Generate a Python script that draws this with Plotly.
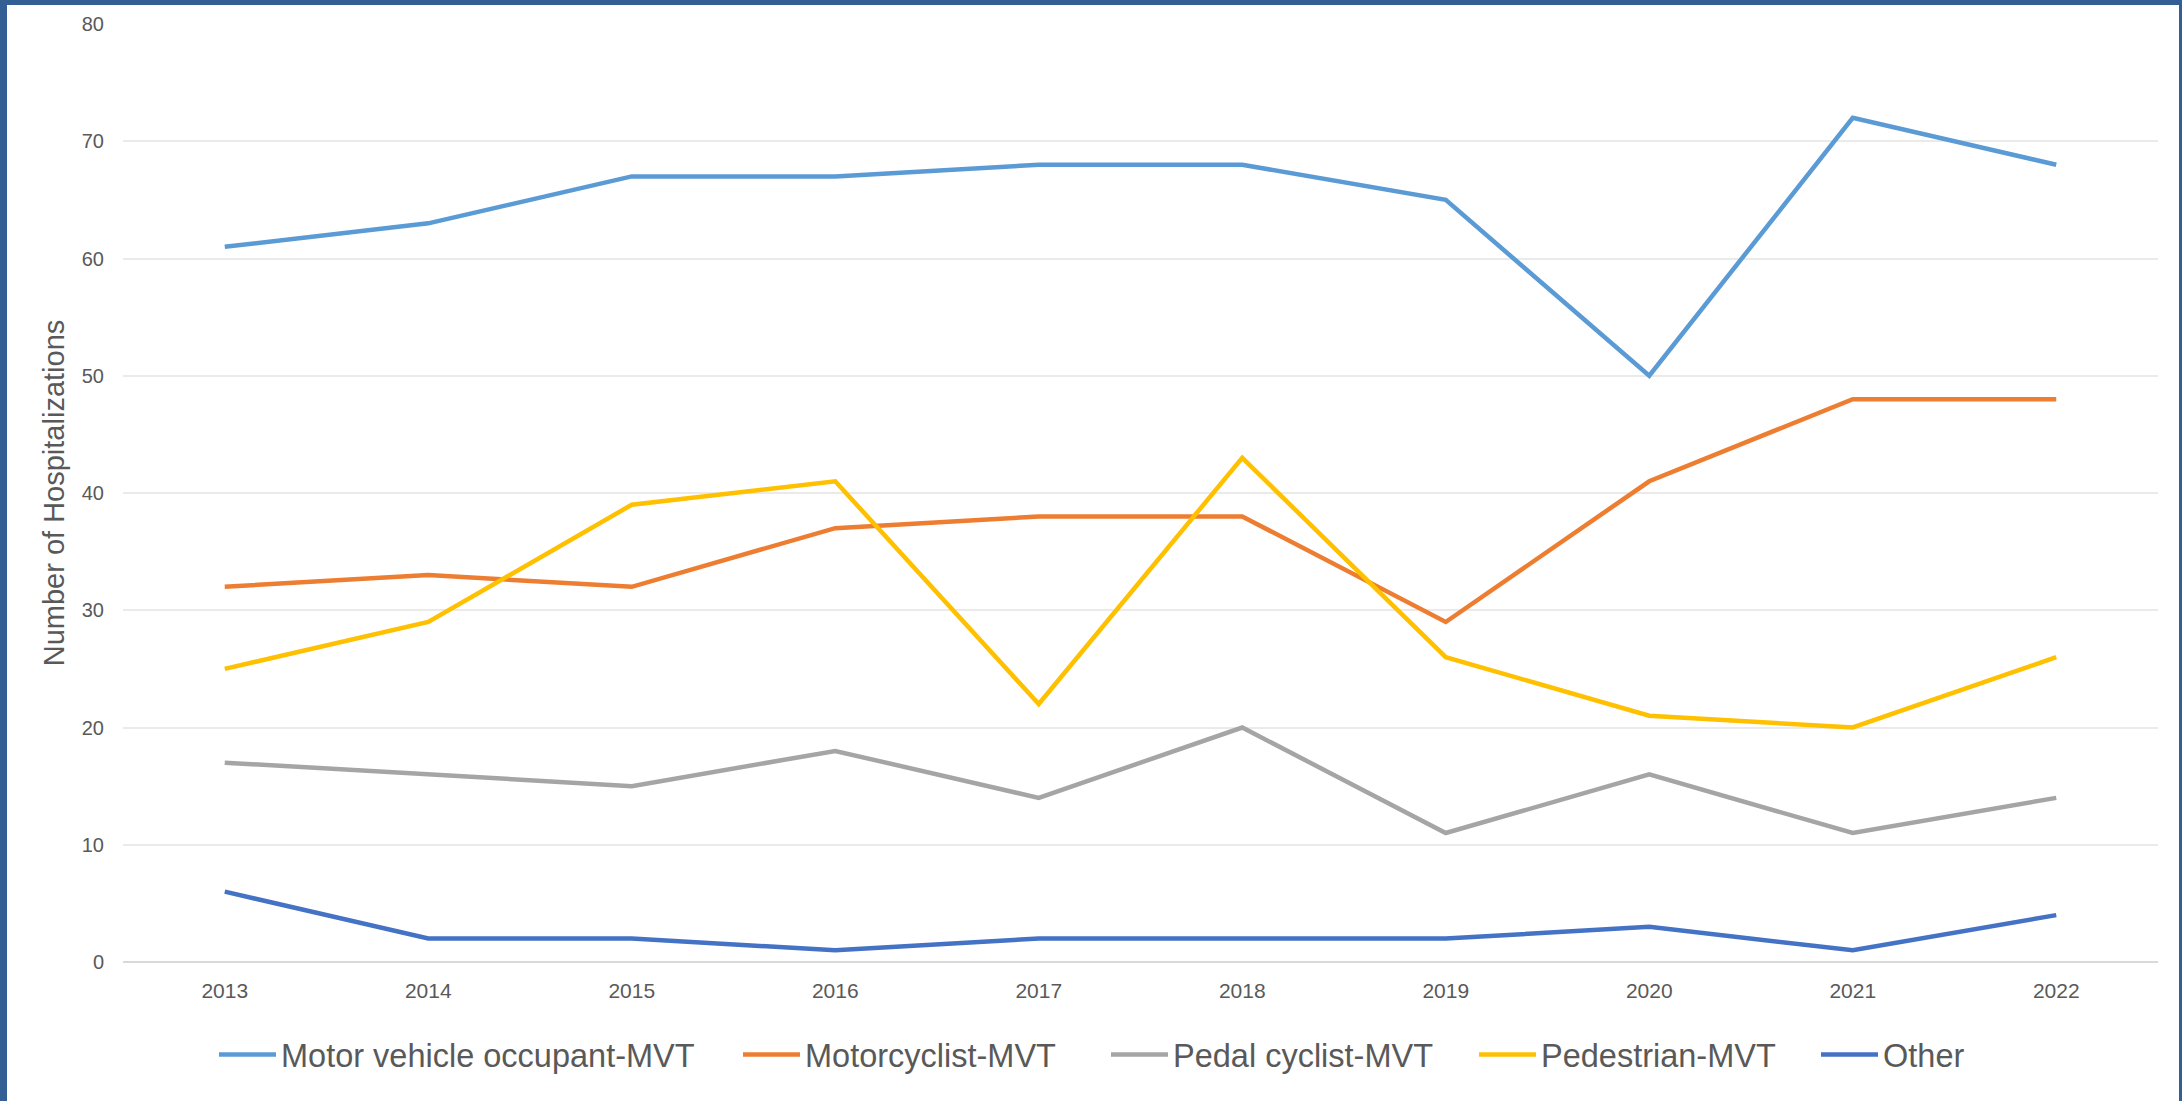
import plotly.graph_objects as go

years = ["2013", "2014", "2015", "2016", "2017", "2018", "2019", "2020", "2021", "2022"]
motor_vehicle_occupant = [61, 63, 67, 67, 68, 68, 65, 50, 72, 68]
motorcyclist = [32, 33, 32, 37, 38, 38, 29, 41, 48, 48]
pedal_cyclist = [17, 16, 15, 18, 14, 20, 11, 16, 11, 14]
pedestrian = [25, 29, 39, 41, 22, 43, 26, 21, 20, 26]
other = [6, 2, 2, 1, 2, 2, 2, 3, 1, 4]

series_names = ["Motor vehicle occupant-MVT", "Motorcyclist-MVT", "Pedal cyclist-MVT",
                "Pedestrian-MVT", "Other"]
series_values = [motor_vehicle_occupant, motorcyclist, pedal_cyclist, pedestrian, other]
series_colors = ["#5B9BD5", "#ED7D31", "#A5A5A5", "#FFC000", "#4472C4"]
# left pixel of each legend entry's text
legend_text_px = [283, 807, 1175, 1543, 1885]

W, H = 2182, 1101
L, R, T, B = 123, 24, 24, 139
PW, PH = W - L - R, H - T - B
ITEMW = 57

font_family = "Liberation Sans, Arial, sans-serif"

fig = go.Figure()
legend_layouts = {}
for i, (name, vals, col) in enumerate(zip(series_names, series_values, series_colors)):
    lg = "legend" if i == 0 else f"legend{i + 1}"
    fig.add_trace(go.Scatter(x=years, y=vals, name=name, mode="lines",
                             line=dict(color=col, width=4.5), legend=lg))
    legend_layouts[lg] = dict(
        orientation="h", xref="container", yref="container",
        x=(legend_text_px[i] - ITEMW - 12) / W, xanchor="left",
        y=0.042, yanchor="middle", itemwidth=ITEMW,
        font=dict(size=32.5, color="#595959", family=font_family),
        bgcolor="rgba(0,0,0,0)", borderwidth=0,
    )

def px_x(p):
    return (p - L) / PW

def px_y(p):
    return (H - B - p) / PH

fig.add_shape(type="rect", xref="paper", yref="paper", layer="below",
              x0=px_x(7), x1=px_x(2179), y0=px_y(H + 5), y1=px_y(5),
              fillcolor="white", line=dict(width=0))

fig.update_layout(
    width=W, height=H,
    margin=dict(l=L, r=R, t=T, b=B, autoexpand=False),
    paper_bgcolor="#335F95",
    plot_bgcolor="white",
    font=dict(family=font_family, color="#595959"),
    showlegend=True,
    xaxis=dict(type="category", range=[-0.5, 9.5], showgrid=False,
               showline=False, zeroline=False, ticks="",
               tickfont=dict(size=21, color="#595959"),
               ticklabelstandoff=14, fixedrange=True),
    yaxis=dict(range=[0, 80], dtick=10, showgrid=True, gridcolor="#EAEAEA",
               gridwidth=1.5, zeroline=True, zerolinecolor="#D9D9D9",
               zerolinewidth=2, showline=False, ticks="",
               tickfont=dict(size=20, color="#595959"),
               ticklabelstandoff=18,
               title=dict(text="Number of Hospitalizations",
                          font=dict(size=29, color="#595959"), standoff=8)),
    **legend_layouts,
)

fig.write_html("out.html", config={"displayModeBar": False},
               post_script="document.body.style.margin='0';")
